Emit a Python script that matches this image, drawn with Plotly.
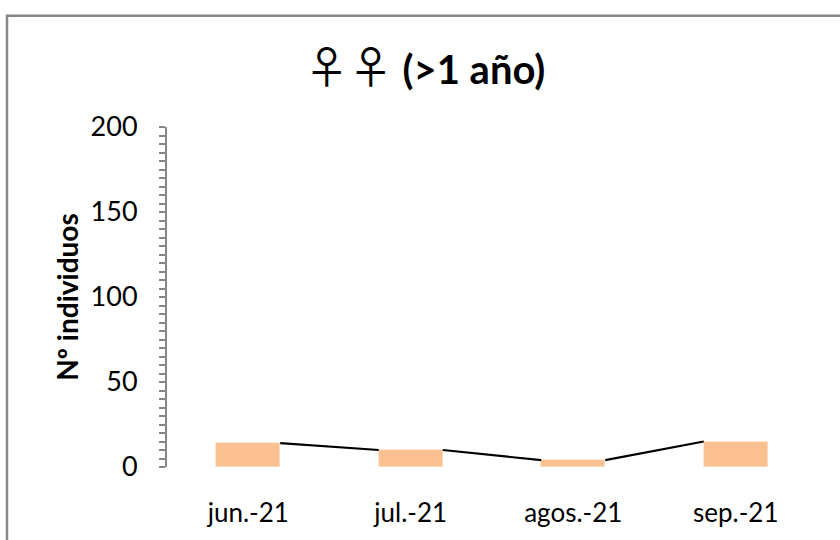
import plotly.graph_objects as go

# Monthly counts of adult females (>1 year)
months = ["jun.-21", "jul.-21", "agos.-21", "sep.-21"]
counts = [14, 10, 4, 15]

y_ticks = [0, 50, 100, 150, 200]

BAR_FRAC = 0.394          # bar width as a fraction of the category slot
BAR_COLOR = "#FAC090"
AXIS_GRAY = "#868686"
FONT = "Lato, 'Noto Sans', sans-serif"

x_pos = list(range(len(months)))

fig = go.Figure()

fig.add_trace(go.Bar(
    x=x_pos,
    y=counts,
    width=BAR_FRAC,
    marker=dict(color=BAR_COLOR, line=dict(width=0.6, color="#FDE3CC")),
    hoverinfo="x+y",
    showlegend=False,
))

# Series lines: join the top-right corner of each bar to the top-left of the next
for i in range(len(counts) - 1):
    fig.add_trace(go.Scatter(
        x=[x_pos[i] + BAR_FRAC / 2, x_pos[i + 1] - BAR_FRAC / 2],
        y=[counts[i], counts[i + 1]],
        mode="lines",
        line=dict(color="black", width=2.2),
        hoverinfo="skip",
        showlegend=False,
    ))

fig.update_layout(
    width=840,
    height=540,
    margin=dict(l=167, r=23, t=127, b=71),
    paper_bgcolor="white",
    plot_bgcolor="white",
    font=dict(family=FONT, color="black"),
    title=dict(
        text="<span style=\"font-family:'Noto Sans CJK JP';font-weight:normal;font-size:44px\">♀♀</span> (>1 año)",
        x=0.506, xref="container", xanchor="center",
        y=1 - 70 / 540, yref="container", yanchor="middle",
        font=dict(family=FONT, size=40, color="black", weight="bold"),
    ),
    bargap=0,
)

fig.update_xaxes(
    range=[-0.5, len(months) - 0.5],
    tickmode="array",
    tickvals=x_pos,
    ticktext=months,
    tickfont=dict(size=26, family=FONT, color="black"),
    showline=False,
    showgrid=False,
    zeroline=False,
    ticks="",
    ticklabelstandoff=28,
    fixedrange=True,
)

fig.update_yaxes(
    range=[0, 200],
    tickmode="array",
    tickvals=y_ticks,
    ticktext=[str(v) for v in y_ticks],
    tickfont=dict(size=27, family=FONT, color="black"),
    showline=True,
    linecolor=AXIS_GRAY,
    linewidth=2,
    ticks="outside",
    ticklen=6,
    tickwidth=2,
    tickcolor=AXIS_GRAY,
    minor=dict(dtick=5, ticks="outside", ticklen=6, tickwidth=1.5, tickcolor=AXIS_GRAY, showgrid=False),
    showgrid=False,
    zeroline=False,
    ticklabelstandoff=16,
    title=dict(text="Nº individuos", font=dict(size=28, family=FONT, color="black", weight="bold"), standoff=4),
    fixedrange=True,
)

# Chart-area border (runs off the right and bottom edges of the page)
fig.add_shape(
    type="rect", xref="paper", yref="paper",
    x0=(7 - 167) / 650, x1=1.2, y0=-0.4, y1=(469 - 15) / 342,
    line=dict(color=AXIS_GRAY, width=2.5),
    fillcolor="rgba(0,0,0,0)",
    layer="below",
)

fig.write_html("out.html")
